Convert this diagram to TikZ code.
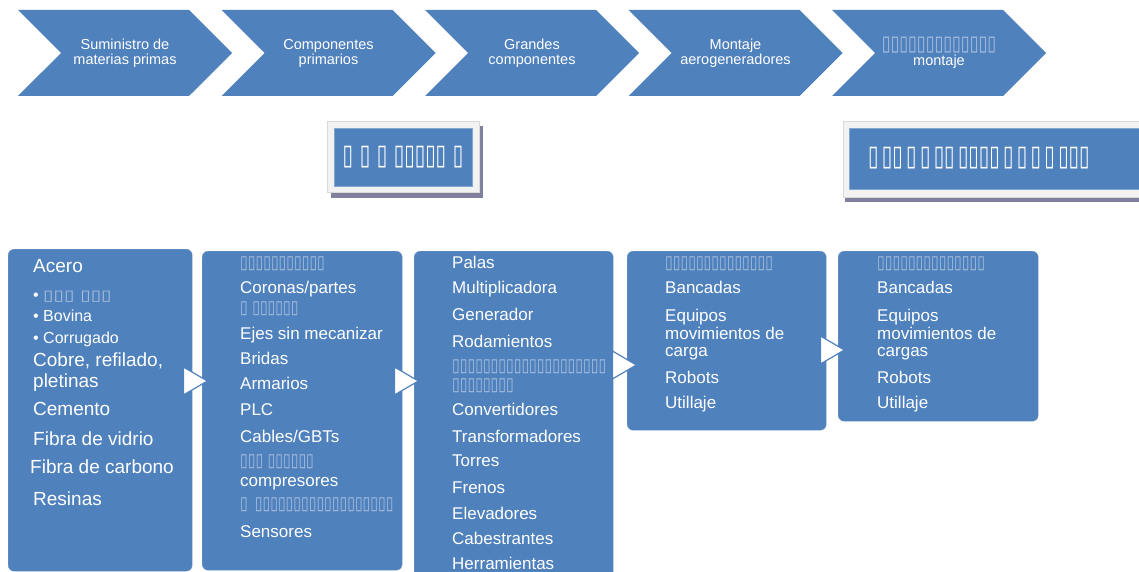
\documentclass[tikz,border=0pt]{standalone}
\usepackage{fontspec}
\usepackage{graphicx}
\setmainfont{Liberation Sans}
\newfontfamily\glyphfont{DejaVu Sans}
\usetikzlibrary{shapes.symbols}

\definecolor{panelblue}{HTML}{4F81BD}
\definecolor{faded}{HTML}{A9C0DF}
\definecolor{framegray}{HTML}{F2F2F2}
\definecolor{shadowgray}{HTML}{80809E}

% unreadable words, shown as empty glyph boxes
\newcommand\gly[2][14]{{\glyphfont\fontsize{#1}{#1}\selectfont\color{faded}\scalebox{1}[1.3]{#2}}}
\newcommand\glyb[1]{{\glyphfont\bfseries\fontsize{19}{19}\selectfont\scalebox{1}[1.5]{#1}}}

\begin{document}
\begin{tikzpicture}[x=1pt,y=-1pt,
	stage/.style={signal, signal from=west, signal to=east, signal pointer angle=90,
		fill=panelblue, text=white, minimum width=214pt, minimum height=86pt,
		inner sep=0pt, align=center, font=\fontsize{14.5}{15}\selectfont},
	tag/.style={rectangle, fill=panelblue, draw=panelblue!70!white, text=white, inner sep=0pt},
	panel/.style={rectangle, rounded corners=6pt, fill=panelblue, draw=panelblue!80!white, anchor=north west},
	items/.style={anchor=north west, inner sep=0pt, text=white, align=left, font=\fontsize{17}{19}\selectfont},
	pointer/.style={fill=white, draw=panelblue, line width=1.2pt, line join=miter}]
	\useasboundingbox (0,0) rectangle (1139,572);

	% value chain
	\node[stage] (s1) at (125,53) {Suministro de\\materias primas};
	\node[stage] (s2) at (328.5,53) {Componentes\\primarios};
	\node[stage] (s3) at (532,53) {Grandes\\componentes};
	\node[stage] (s4) at (735.5,53) {Montaje\\aerogeneradores};
	\node[stage] (s5) at (939,53) {\gly[16]{▯▯▯▯▯▯▯▯▯▯▯▯▯}\\montaje};

	% headings
	\fill[shadowgray] (331,126) rectangle (483,198);
	\filldraw[fill=framegray, draw=black!15] (327,121) rectangle (479,192);
	\node[tag, minimum width=138pt, minimum height=58pt] (h1) at (403,157)
		{\glyb{▯ ▯ ▯ ▯▯▯▯▯ ▯}};
	\fill[shadowgray] (845,126) rectangle (1150,202);
	\filldraw[fill=framegray, draw=black!15] (843,121) rectangle (1150,197);
	\node[tag, anchor=west, minimum height=61pt, text width=282pt, inner xsep=19pt, align=left] (h2) at (849,158.5)
		{\glyb{▯ ▯▯ ▯ ▯ ▯▯ ▯▯▯▯ ▯ ▯ ▯ ▯ ▯▯▯}};

	% lists
	\node[panel, minimum width=184pt, minimum height=322pt] (b1) at (8,249) {};
	\node[panel, minimum width=200pt, minimum height=319pt] (b2) at (202,251) {};
	\node[panel, minimum width=199pt, minimum height=330pt] (b3) at (414,251) {};
	\node[panel, minimum width=199pt, minimum height=179pt] (b4) at (627,251) {};
	\node[panel, minimum width=200pt, minimum height=170pt] (b5) at (838,251) {};

	\node[items, font=\fontsize{19}{21}\selectfont] (l1) at (33,259) {Acero\\[7pt]
		{\fontsize{16}{21}\selectfont • \gly{\scalebox{1.35}[0.8]{▯▯▯ ▯▯▯}}}\\
		{\fontsize{16}{21}\selectfont • Bovina}\\[1pt]
		{\fontsize{16}{21}\selectfont • Corrugado}\\[2pt]
		Cobre, refilado,\\
		pletinas\\[7pt]
		Cemento\\[9pt]
		Fibra de vidrio\\[7pt]
		\hspace*{-3pt}Fibra de carbono\\[11pt]
		Resinas};
	\node[items] (l2) at (240,257) {\gly{▯▯▯▯▯▯▯▯▯▯▯}\\[6pt]
		Coronas/partes\\[1pt]
		\gly{▯ ▯▯▯▯▯▯}\\[7pt]
		Ejes sin mecanizar\\[6pt]
		Bridas\\[6pt]
		Armarios\\[7pt]
		PLC\\[8pt]
		Cables/GBTs\\[5pt]
		\gly{▯▯▯ ▯▯▯▯▯▯}\\[1pt]
		compresores\\[4pt]
		\gly{▯\enspace ▯▯▯▯▯▯▯▯▯▯▯▯▯▯▯▯▯▯}\\[9pt]
		Sensores};
	\node[items] (l3) at (452,256) {Palas\\[6pt]
		Multiplicadora\\[8pt]
		Generador\\[8pt]
		Rodamientos\\[5pt]
		\gly{▯▯▯▯▯▯▯▯▯▯▯▯▯▯▯▯▯▯▯▯}\\
		\gly{▯▯▯▯▯▯▯▯}\\[6pt]
		Convertidores\\[8pt]
		Transformadores\\[5pt]
		Torres\\[8pt]
		Frenos\\[7pt]
		Elevadores\\[6pt]
		Cabestrantes\\[6pt]
		Herramientas};
	\node[items] (l4) at (665,257) {\gly{▯▯▯▯▯▯▯▯▯▯▯▯▯▯}\\[6pt]
		Bancadas\\[9pt]
		Equipos\\[-1pt]
		movimientos de\\[-2pt]
		carga\\[8pt]
		Robots\\[6pt]
		Utillaje};
	\node[items] (l5) at (877,257) {\gly{▯▯▯▯▯▯▯▯▯▯▯▯▯▯}\\[6pt]
		Bancadas\\[9pt]
		Equipos\\[-1pt]
		movimientos de\\[-2pt]
		cargas\\[8pt]
		Robots\\[6pt]
		Utillaje};

	% arrows between lists
	\coordinate (t1) at ([xshift=-9pt]b1.east |- 0,381);
	\coordinate (t2) at ([xshift=-8pt]b2.east |- 0,381);
	\coordinate (t3) at ([xshift=-1pt]b3.east |- 0,365);
	\coordinate (t4) at ([xshift=-6pt]b4.east |- 0,350);
	\draw[pointer] (t1) ++(0,-14) -- ++(24,14) -- ++(-24,14) -- cycle;
	\draw[pointer] (t2) ++(0,-14) -- ++(24,14) -- ++(-24,14) -- cycle;
	\draw[pointer] (t3) ++(0,-14) -- ++(24,14) -- ++(-24,14) -- cycle;
	\draw[pointer] (t4) ++(0,-14) -- ++(24,14) -- ++(-24,14) -- cycle;
\end{tikzpicture}
\end{document}
